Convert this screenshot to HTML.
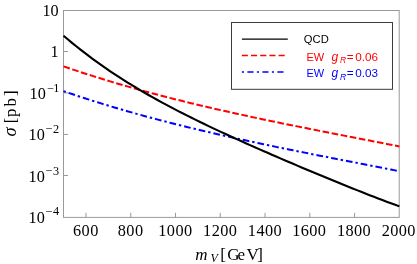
<!DOCTYPE html>
<html><head><meta charset="utf-8"><title>plot</title>
<style>
html,body{margin:0;padding:0;background:#fff;}
body{width:417px;height:264px;overflow:hidden;font-family:"Liberation Serif",serif;}
svg{display:block;will-change:transform;}
.ser{font-family:"Liberation Serif",serif;fill:#000;}
.san{font-family:"Liberation Sans",sans-serif;}
</style></head><body>
<svg width="417" height="264" viewBox="0 0 417 264">
<rect x="0" y="0" width="417" height="264" fill="#fff"/>
<rect x="63.5" y="10.5" width="335.70" height="206.90" fill="none" stroke="#999" stroke-width="1"/>
<path d="M85.98,217.4 v-4.6 M130.75,217.4 v-4.6 M175.52,217.4 v-4.6 M220.28,217.4 v-4.6 M265.05,217.4 v-4.6 M309.81,217.4 v-4.6 M354.58,217.4 v-4.6 M63.5,175.50 h4.6 M63.5,134.45 h4.6 M63.5,92.90 h4.6 M63.5,51.50 h4.6" stroke="#999" stroke-width="1" fill="none"/>
<path d="M63.50,66.36 L67.75,67.82 L72.00,69.25 L76.26,70.67 L80.51,72.07 L84.76,73.45 L89.01,74.82 L93.26,76.17 L97.52,77.50 L101.77,78.82 L106.02,80.12 L110.27,81.40 L114.52,82.67 L118.77,83.93 L123.03,85.16 L127.28,86.39 L131.53,87.60 L135.78,88.79 L140.03,89.97 L144.29,91.14 L148.54,92.30 L152.79,93.44 L157.04,94.57 L161.29,95.68 L165.55,96.79 L169.80,97.88 L174.05,98.96 L178.30,100.03 L182.55,101.09 L186.81,102.13 L191.06,103.17 L195.31,104.19 L199.56,105.21 L203.81,106.21 L208.06,107.21 L212.32,108.20 L216.57,109.17 L220.82,110.14 L225.07,111.10 L229.32,112.06 L233.58,113.00 L237.83,113.94 L242.08,114.86 L246.33,115.79 L250.58,116.70 L254.84,117.61 L259.09,118.51 L263.34,119.40 L267.59,120.29 L271.84,121.18 L276.09,122.06 L280.35,122.93 L284.60,123.80 L288.85,124.66 L293.10,125.52 L297.35,126.38 L301.61,127.23 L305.86,128.08 L310.11,128.93 L314.36,129.77 L318.61,130.61 L322.87,131.45 L327.12,132.28 L331.37,133.11 L335.62,133.95 L339.87,134.78 L344.13,135.61 L348.38,136.44 L352.63,137.26 L356.88,138.09 L361.13,138.92 L365.38,139.75 L369.64,140.58 L373.89,141.41 L378.14,142.24 L382.39,143.07 L386.64,143.90 L390.90,144.74 L395.15,145.58 L399.40,146.42" stroke="#f00" stroke-width="2" fill="none" stroke-dasharray="6.6 2.62"/>
<path d="M63.50,91.16 L67.75,92.62 L72.00,94.05 L76.26,95.47 L80.51,96.87 L84.76,98.25 L89.01,99.62 L93.26,100.97 L97.52,102.30 L101.77,103.62 L106.02,104.92 L110.27,106.20 L114.52,107.47 L118.77,108.73 L123.03,109.96 L127.28,111.19 L131.53,112.40 L135.78,113.59 L140.03,114.77 L144.29,115.94 L148.54,117.10 L152.79,118.24 L157.04,119.37 L161.29,120.48 L165.55,121.59 L169.80,122.68 L174.05,123.76 L178.30,124.83 L182.55,125.89 L186.81,126.93 L191.06,127.97 L195.31,128.99 L199.56,130.01 L203.81,131.01 L208.06,132.01 L212.32,133.00 L216.57,133.97 L220.82,134.94 L225.07,135.90 L229.32,136.86 L233.58,137.80 L237.83,138.74 L242.08,139.66 L246.33,140.59 L250.58,141.50 L254.84,142.41 L259.09,143.31 L263.34,144.20 L267.59,145.09 L271.84,145.98 L276.09,146.86 L280.35,147.73 L284.60,148.60 L288.85,149.46 L293.10,150.32 L297.35,151.18 L301.61,152.03 L305.86,152.88 L310.11,153.73 L314.36,154.57 L318.61,155.41 L322.87,156.25 L327.12,157.08 L331.37,157.91 L335.62,158.75 L339.87,159.58 L344.13,160.41 L348.38,161.24 L352.63,162.06 L356.88,162.89 L361.13,163.72 L365.38,164.55 L369.64,165.38 L373.89,166.21 L378.14,167.04 L382.39,167.87 L386.64,168.70 L390.90,169.54 L395.15,170.38 L399.40,171.22" stroke="#00f" stroke-width="2" fill="none" stroke-dasharray="2.4 2.98 6.68 2.98"/>
<path d="M63.50,35.68 L67.75,39.29 L72.00,42.83 L76.26,46.28 L80.51,49.65 L84.76,52.95 L89.01,56.17 L93.26,59.33 L97.52,62.41 L101.77,65.43 L106.02,68.39 L110.27,71.28 L114.52,74.12 L118.77,76.90 L123.03,79.63 L127.28,82.30 L131.53,84.93 L135.78,87.51 L140.03,90.04 L144.29,92.53 L148.54,94.98 L152.79,97.39 L157.04,99.76 L161.29,102.09 L165.55,104.39 L169.80,106.66 L174.05,108.89 L178.30,111.10 L182.55,113.28 L186.81,115.43 L191.06,117.56 L195.31,119.66 L199.56,121.74 L203.81,123.80 L208.06,125.84 L212.32,127.86 L216.57,129.86 L220.82,131.85 L225.07,133.82 L229.32,135.77 L233.58,137.71 L237.83,139.64 L242.08,141.56 L246.33,143.46 L250.58,145.35 L254.84,147.24 L259.09,149.11 L263.34,150.98 L267.59,152.83 L271.84,154.68 L276.09,156.52 L280.35,158.35 L284.60,160.18 L288.85,162.00 L293.10,163.81 L297.35,165.62 L301.61,167.42 L305.86,169.21 L310.11,170.99 L314.36,172.77 L318.61,174.54 L322.87,176.31 L327.12,178.07 L331.37,179.82 L335.62,181.56 L339.87,183.30 L344.13,185.02 L348.38,186.74 L352.63,188.44 L356.88,190.14 L361.13,191.83 L365.38,193.50 L369.64,195.16 L373.89,196.81 L378.14,198.44 L382.39,200.06 L386.64,201.66 L390.90,203.25 L395.15,204.82 L399.40,206.37" stroke="#000" stroke-width="2.1" fill="none"/>
<text class="ser" x="85.88" y="235.5" font-size="16.3" letter-spacing="0.4" text-anchor="middle">600</text>
<text class="ser" x="130.65" y="235.5" font-size="16.3" letter-spacing="0.4" text-anchor="middle">800</text>
<text class="ser" x="175.42" y="235.5" font-size="16.3" letter-spacing="0.4" text-anchor="middle">1000</text>
<text class="ser" x="220.18" y="235.5" font-size="16.3" letter-spacing="0.4" text-anchor="middle">1200</text>
<text class="ser" x="264.95" y="235.5" font-size="16.3" letter-spacing="0.4" text-anchor="middle">1400</text>
<text class="ser" x="309.31" y="235.5" font-size="16.3" letter-spacing="0.4" text-anchor="middle">1600</text>
<text class="ser" x="354.08" y="235.5" font-size="16.3" letter-spacing="0.4" text-anchor="middle">1800</text>
<text class="ser" x="398.85" y="235.5" font-size="16.3" letter-spacing="0.4" text-anchor="middle">2000</text>
<text class="ser" x="44.8" y="223.05" font-size="16.2" text-anchor="end">10</text>
<text class="ser" x="45.85" y="216.10" font-size="12.3" text-anchor="start">−</text>
<text class="ser" x="53.0" y="215.25" font-size="12.3" text-anchor="start">4</text>
<text class="ser" x="44.8" y="181.70" font-size="16.2" text-anchor="end">10</text>
<text class="ser" x="45.85" y="174.75" font-size="12.3" text-anchor="start">−</text>
<text class="ser" x="53.0" y="174.60" font-size="12.3" text-anchor="start">3</text>
<text class="ser" x="44.8" y="140.35" font-size="16.2" text-anchor="end">10</text>
<text class="ser" x="45.85" y="133.40" font-size="12.3" text-anchor="start">−</text>
<text class="ser" x="53.0" y="133.25" font-size="12.3" text-anchor="start">2</text>
<text class="ser" x="45.8" y="99.00" font-size="16.2" text-anchor="end">10</text>
<text class="ser" x="47.15" y="92.95" font-size="12.3" text-anchor="start">−</text>
<text class="ser" x="53.3" y="91.90" font-size="12.3" text-anchor="start">1</text>
<text class="ser" x="58.6" y="57.05" font-size="16.2" text-anchor="end">1</text>
<text class="ser" x="58.6" y="15.70" font-size="16.2" text-anchor="end">10</text>
<text class="ser" x="195.3" y="260" font-size="17" font-style="italic">m</text><text class="ser" x="210.4" y="262.3" font-size="12" font-style="italic">V</text><text class="ser" x="220.3" y="260" font-size="17" font-style="normal">[</text><text class="ser" x="227.3" y="260" font-size="17" font-style="normal">G</text><text class="ser" x="237.6" y="260" font-size="17" font-style="normal">e</text><text class="ser" x="246.4" y="260" font-size="17" font-style="normal">V</text><text class="ser" x="257.2" y="260" font-size="17" font-style="normal">]</text>
<g transform="translate(16,136) rotate(-90)"><text class="ser" x="-0.4" y="0" font-size="18.5" font-style="italic">σ</text><text class="ser" x="12.7" y="0" font-size="17" font-style="normal">[</text><text class="ser" x="19.1" y="0" font-size="17" font-style="normal">p</text><text class="ser" x="29.6" y="0" font-size="17" font-style="normal">b</text><text class="ser" x="39.9" y="0" font-size="17" font-style="normal">]</text></g>
<rect x="231.5" y="22.5" width="161" height="66.8" fill="#fff" stroke="#3c3c3c" stroke-width="1"/>
<path d="M241.9,39.05 H287.8" stroke="#000" stroke-width="1.2" fill="none"/>
<path d="M241.8,55.5 H285.2" stroke="#f00" stroke-width="1.3" fill="none" stroke-dasharray="6.1 3.1"/>
<path d="M241.9,72 H284.5" stroke="#00f" stroke-width="1.3" fill="none" stroke-dasharray="2.1 3.4 6.1 3.4"/>
<text class="san" x="303.85" y="43.2" font-size="11.2" fill="#000">QCD</text>
<text class="san" x="306.5" y="60.6" font-size="11" fill="#f00">EW<tspan x="331.4" font-style="italic" font-size="12">g</tspan><tspan x="339.9" dy="2.5" font-size="8.5" font-style="italic">R</tspan><tspan dy="-2.5" x="346.7" font-size="11.7">=</tspan><tspan x="355.3" font-size="11.7">0.06</tspan></text>
<text class="san" x="306.5" y="77.1" font-size="11" fill="#00f">EW<tspan x="331.4" font-style="italic" font-size="12">g</tspan><tspan x="339.9" dy="2.5" font-size="8.5" font-style="italic">R</tspan><tspan dy="-2.5" x="346.7" font-size="11.7">=</tspan><tspan x="355.3" font-size="11.7">0.03</tspan></text>
</svg>
</body></html>
